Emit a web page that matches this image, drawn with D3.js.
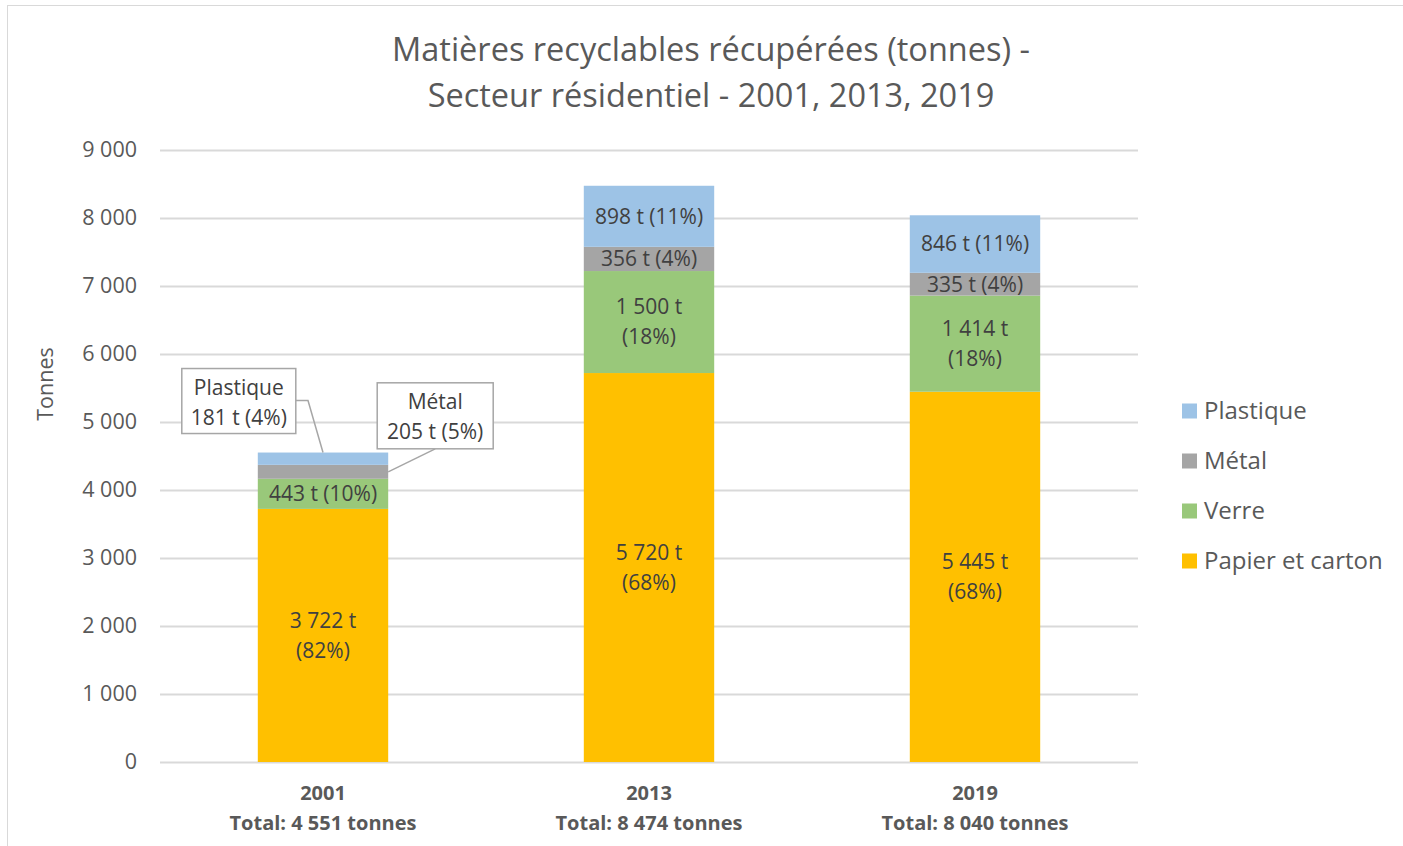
<!DOCTYPE html>
<html>
<head>
<meta charset="utf-8">
<script src="https://cdn.jsdelivr.net/npm/d3@7"></script>
<style>
  body { margin: 0; background: #fff; }
  text { font-family: "Open Sans", sans-serif; }
</style>
</head>
<body>
<script>
const width = 1403;
const height = 846;

// data
const years = ["2001", "2013", "2019"];
const series = ["Papier et carton", "Verre", "Métal", "Plastique"];
const papier = [3722, 5720, 5445];
const verre = [443, 1500, 1414];
const metal = [205, 356, 335];
const plastique = [181, 898, 846];
const yTicks = [0, 1000, 2000, 3000, 4000, 5000, 6000, 7000, 8000, 9000];

const colors = {"Papier et carton": "#ffc000",
                "Verre": "#99c87a",
                "Métal": "#a5a5a5",
                "Plastique": "#9dc3e6"};

const rows = years.map(function(y, i) {
  return {"year": y, "Papier et carton": papier[i], "Verre": verre[i],
          "Métal": metal[i], "Plastique": plastique[i]};
});
rows.forEach(function(r) { r.total = d3.sum(series, s => r[s]); });

const fr = d3.formatLocale({decimal: ",", thousands: " ", grouping: [3], currency: ["", " €"]});
const fmt = fr.format(",d");

const svg = d3.select('body')
  .append('svg')
  .attr('width', width)
  .attr('height', height);

// chart frame
svg.append("rect")
  .attr("x", 7.5).attr("y", 5.5)
  .attr("width", width + 10).attr("height", height + 10)
  .attr("fill", "#fff")
  .attr("stroke", "#d9d9d9");

const margin = {left: 160, right: 265, top: 150, bottom: 84};

const x = d3.scaleBand()
  .domain(years)
  .range([margin.left, width - margin.right])
  .paddingInner(0.6)
  .paddingOuter(0.3);

const y = d3.scaleLinear()
  .domain([0, 9000])
  .range([height - margin.bottom, margin.top]);

// gridlines
svg.append("g")
  .selectAll("line")
  .data(yTicks)
  .enter().append("line")
  .attr("x1", margin.left).attr("x2", width - margin.right)
  .attr("y1", d => Math.round(y(d)) + 0.5)
  .attr("y2", d => Math.round(y(d)) + 0.5)
  .attr("stroke", "#d9d9d9")
  .attr("stroke-width", 2);

// y axis labels
const yAxis = svg.append("g")
  .attr("transform", "translate(" + margin.left + ",0)")
  .call(d3.axisLeft(y).tickValues(yTicks).tickFormat(fmt).tickSize(0).tickPadding(23));
yAxis.select(".domain").remove();
yAxis.selectAll("text")
  .attr("fill", "#595959")
  .style("font-size", "21.5px")
  .style("font-family", "'Open Sans', sans-serif");

svg.append("text")
  .attr("transform", "translate(53," + 384 + ") rotate(-90)")
  .attr("text-anchor", "middle")
  .attr("fill", "#595959")
  .style("font-size", "21.5px")
  .text("Tonnes");

// title
const title = svg.append("text")
  .attr("text-anchor", "middle")
  .attr("fill", "#595959")
  .style("font-size", "32.5px");
title.append("tspan").attr("x", 711).attr("y", 61).text("Matières recyclables récupérées (tonnes) -");
title.append("tspan").attr("x", 711).attr("y", 107).text("Secteur résidentiel - 2001, 2013, 2019");

// stacked bars
const stacked = d3.stack().keys(series)(rows);

const layer = svg.append("g")
  .selectAll("g")
  .data(stacked)
  .enter().append("g")
  .attr("fill", d => colors[d.key]);

layer.selectAll("rect")
  .data(d => d.map(function(p) { p.key = d.key; return p; }))
  .enter().append("rect")
  .attr("x", d => x(d.data.year))
  .attr("y", d => y(d[1]))
  .attr("width", x.bandwidth())
  .attr("height", d => y(d[0]) - y(d[1]));

// data labels
function labelParts(d) {
  const v = d[1] - d[0];
  const pct = Math.round(v / d.data.total * 100);
  return [fmt(v) + " t", "(" + pct + "%)"];
}

const segs = [];
stacked.forEach(function(s) { s.forEach(function(p) { segs.push(p); }); });

const inside = segs.filter(d => y(d[0]) - y(d[1]) >= 16);
const callouts = segs.filter(d => y(d[0]) - y(d[1]) < 16);

const labelSize = "21px";

const lab = svg.append("g")
  .selectAll("text")
  .data(inside)
  .enter().append("text")
  .attr("text-anchor", "middle")
  .attr("fill", "#404040")
  .style("font-size", labelSize);

lab.each(function(d) {
  const t = d3.select(this);
  const cx = x(d.data.year) + x.bandwidth() / 2;
  const cy = (y(d[0]) + y(d[1])) / 2;
  const parts = labelParts(d);
  if (y(d[0]) - y(d[1]) > 80) {
    t.append("tspan").attr("x", cx).attr("y", cy - 15).attr("dy", "0.35em").text(parts[0]);
    t.append("tspan").attr("x", cx).attr("y", cy + 15).attr("dy", "0.35em").text(parts[1]);
  } else {
    t.append("tspan").attr("x", cx).attr("y", cy).attr("dy", "0.35em").text(parts[0] + " " + parts[1]);
  }
});

// callouts for the thin segments of 2001 (box placement relative to the bar)
const calloutPos = {"Plastique": {bx: -76, by: -84, w: 114, h: 65, elbow: [-15, -52], anchor: "top"},
                    "Métal": {bx: 54, by: -89, w: 116, h: 66, elbow: [111, -23], anchor: "right"}};

const co = svg.append("g")
  .selectAll("g")
  .data(callouts)
  .enter().append("g");

co.each(function(d) {
  const g = d3.select(this);
  const p = calloutPos[d.key];
  const x0 = x(d.data.year);
  const top = y(d[1]);
  const mid = (y(d[0]) + y(d[1])) / 2;
  const parts = labelParts(d);
  let ax, ay, bx, by, pts;
  if (p.anchor === "top") {
    ax = x0 + x.bandwidth() / 2; ay = top;
    bx = x0 + p.bx; by = ay + p.by;
    pts = [[bx + p.w, by + 32], [ax + p.elbow[0], by + 32], [ax, ay]];
  } else {
    ax = x0 + x.bandwidth(); ay = mid;
    bx = ax + p.bx - 65; by = ay + p.by;
    pts = [[bx + p.w / 2, by + p.h], [ax, ay]];
  }
  g.append("polyline")
    .attr("points", pts.map(q => q.join(",")).join(" "))
    .attr("fill", "none").attr("stroke", "#a6a6a6").attr("stroke-width", 1.5);
  g.append("rect").attr("x", bx).attr("y", by).attr("width", p.w).attr("height", p.h)
    .attr("fill", "#fff").attr("stroke", "#a6a6a6").attr("stroke-width", 1.5);
  g.append("text").attr("x", bx + p.w / 2).attr("y", by + 19).attr("dy", "0.35em")
    .attr("text-anchor", "middle").attr("fill", "#404040").style("font-size", labelSize).text(d.key);
  g.append("text").attr("x", bx + p.w / 2).attr("y", by + 49).attr("dy", "0.35em")
    .attr("text-anchor", "middle").attr("fill", "#404040").style("font-size", labelSize)
    .text(parts[0] + " " + parts[1]);
});

// category labels
const cat = svg.append("g")
  .selectAll("text")
  .data(rows)
  .enter().append("text")
  .attr("text-anchor", "middle")
  .attr("fill", "#595959")
  .style("font-size", "20px")
  .style("font-weight", "bold");
cat.append("tspan")
  .attr("x", d => x(d.year) + x.bandwidth() / 2)
  .attr("y", 793).attr("dy", "0.35em")
  .text(d => d.year);
cat.append("tspan")
  .attr("x", d => x(d.year) + x.bandwidth() / 2)
  .attr("y", 823).attr("dy", "0.35em")
  .text(d => "Total: " + fmt(d.total) + " tonnes");

// legend
const legend = svg.append("g")
  .selectAll("g")
  .data(series.slice().reverse())
  .enter().append("g")
  .attr("transform", (d, i) => "translate(1182," + (411 + i * 50) + ")");
legend.append("rect")
  .attr("x", 0).attr("y", -7.5)
  .attr("width", 15).attr("height", 15)
  .attr("fill", d => colors[d]);
legend.append("text")
  .attr("x", 22).attr("dy", "0.35em")
  .attr("fill", "#595959")
  .style("font-size", "24px")
  .text(d => d);
</script>
</body>
</html>
